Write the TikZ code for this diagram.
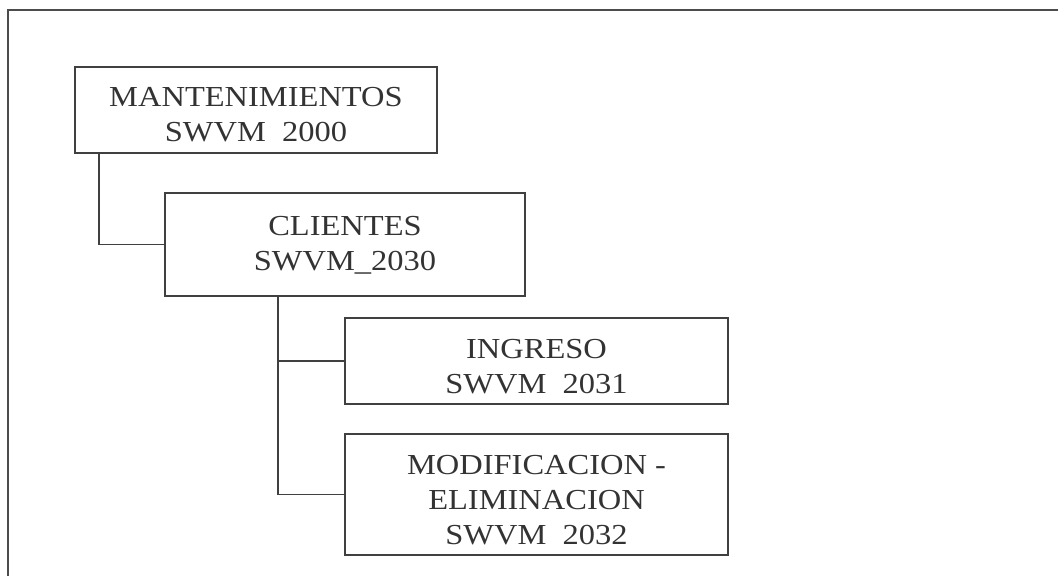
\documentclass[tikz,border=0pt]{standalone}
\usepackage{fontspec}
\setmainfont[FakeStretch=1.12]{Liberation Serif}
\begin{document}
\begin{tikzpicture}[x=1pt,y=-1pt,
  box/.style={draw=black!75, line width=1.1pt, rectangle, inner sep=0pt},
  lbl/.style={inner sep=0pt, text=black!80, align=center,
    font=\fontsize{29}{35}\selectfont},
  link/.style={draw=black!75, line width=1.1pt}]
\useasboundingbox (0,0) rectangle (1058,576);
\draw[draw=black!70, line width=1.5pt] (8,576) -- (8,10) -- (1058,10);
\node[box, minimum width=362pt, minimum height=86pt] (mant) at (256,110) {};
\node[box, minimum width=360pt, minimum height=103pt] (cli) at (345,244.5) {};
\node[box, minimum width=383pt, minimum height=86pt] (ing) at (536.5,361) {};
\node[box, minimum width=383pt, minimum height=121pt] (mod) at (536.5,494.5) {};
\node[lbl] (mantT) at ([yshift=-5pt]mant.center) {MANTENIMIENTOS\\SWVM\ \ 2000};
\node[lbl] (cliT) at ([yshift=-1pt]cli.center) {CLIENTES\\SWVM\_2030};
\node[lbl] (ingT) at ([yshift=-6pt]ing.center) {INGRESO\\SWVM\ \ 2031};
\node[lbl] (modT) at ([yshift=-6pt]mod.center) {MODIFICACION -\\ELIMINACION\\SWVM\ \ 2032};
\coordinate (mdrop) at (99,153);
\coordinate (cdrop) at (278,295.5);
\draw[link] (mdrop) |- (cli.west);
\draw[link] (cdrop) |- (mod.west);
\draw[link] (cdrop |- ing.west) -- (ing.west);
\end{tikzpicture}
\end{document}
